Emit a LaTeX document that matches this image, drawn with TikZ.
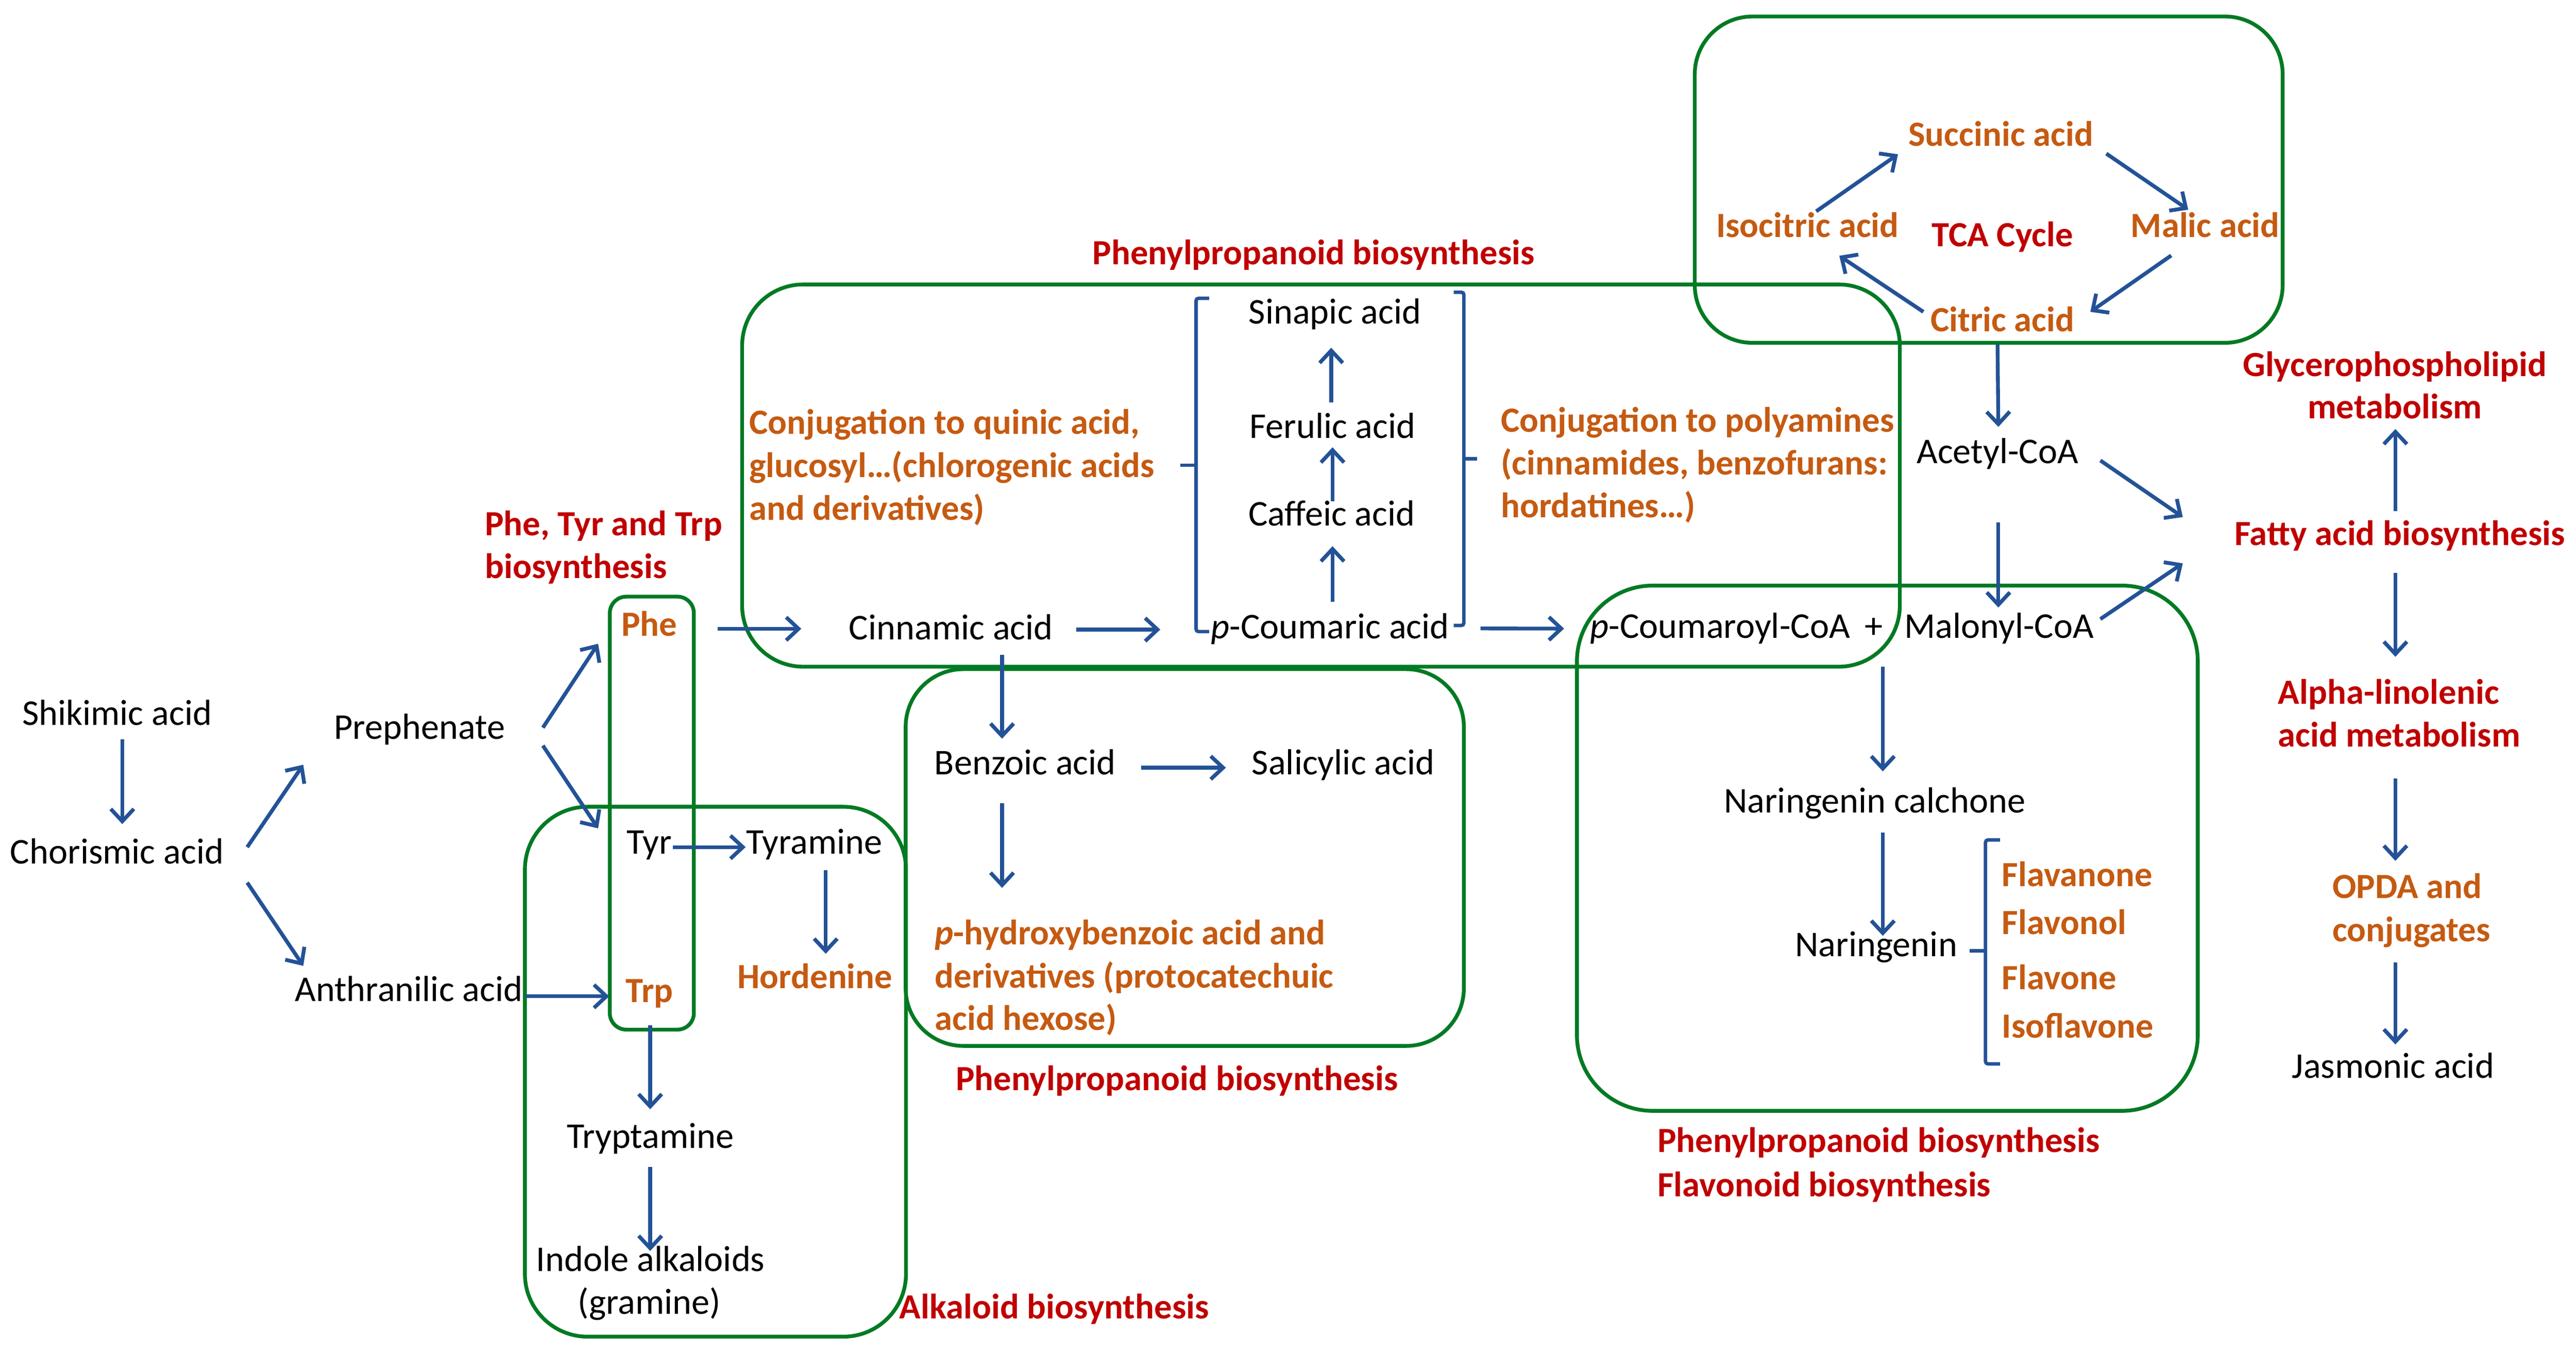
\documentclass[tikz,border=0pt]{standalone}
\usepackage{fontspec}
\setmainfont{Carlito}
\usetikzlibrary{arrows.meta,calc}
\definecolor{arrc}{RGB}{35,82,150}
\definecolor{grn}{RGB}{0,122,35}
\definecolor{orgc}{RGB}{197,90,17}
\definecolor{redc}{RGB}{192,0,0}
\begin{document}
\begin{tikzpicture}[x=1pt,y=-1pt,
  lbl/.style={inner sep=0pt,font=\fontsize{22}{26}\selectfont,text=black},
  org/.style={inner sep=0pt,font=\fontsize{21.5}{26}\selectfont\bfseries,text=orgc},
  rdl/.style={inner sep=0pt,font=\fontsize{21.5}{26}\selectfont\bfseries,text=redc},
  arr/.style={draw=arrc,line width=2.3pt,-{Straight Barb[length=7.5pt,width=14pt]}},
  grp/.style={draw=grn,line width=2.3pt,rounded corners=#1},
  brk/.style={draw=arrc,line width=2.1pt,rounded corners=1.5pt}]
\useasboundingbox (0,0) rectangle (1563,822);
% group frames
\draw[grp=35pt] (1028.3,10) rectangle (1385,208);
\draw[grp=37pt] (450.3,172.6) rectangle (1152.7,404.5);
\draw[grp=10pt] (370,362) rectangle (421,624.7);
\draw[grp=38pt] (318.5,489.5) rectangle (549.7,811);
\draw[grp=35pt] (549.5,406) rectangle (888.2,634.6);
\draw[grp=46pt] (956.8,355.3) rectangle (1333.5,674);
% brackets
\draw[brk] (733.6,181) -- (725.7,181) -- (725.7,383.2) -- (733.6,383.2);
\draw[brk] (716.3,282.3) -- (725.7,282.3);
\draw[brk] (882,177.3) -- (888.2,177.3) -- (888.2,379.5) -- (882,379.5);
\draw[brk] (888.2,278.4) -- (896.2,278.4);
\draw[brk] (1213.5,509.6) -- (1204.7,509.6) -- (1204.7,645.5) -- (1213.5,645.5);
\draw[brk] (1195,577) -- (1204.7,577);
% black labels
\node[lbl,anchor=base] (shik) at (71,440) {Shikimic acid};
\node[lbl,anchor=base] (chor) at (71,524) {Chorismic acid};
\node[lbl,anchor=base] (preph) at (254.5,448.5) {Prephenate};
\node[lbl,anchor=base] (anth) at (248,607.5) {Anthranilic acid};
\node[lbl,anchor=base] (tyr) at (394,518) {Tyr};
\node[lbl,anchor=base] (tyram) at (494,518) {Tyramine};
\node[lbl,anchor=base] (trypt) at (394.7,696.5) {Tryptamine};
\node[lbl,anchor=base] (indA) at (394.7,771.3) {Indole alkaloids};
\node[lbl,anchor=base] (indB) at (394,797.4) {(gramine)};
\node[lbl,anchor=base] (cinn) at (577,388) {Cinnamic acid};
\node[lbl,anchor=base] (sinap) at (810,196.5) {Sinapic acid};
\node[lbl,anchor=base] (feru) at (808.5,266) {Ferulic acid};
\node[lbl,anchor=base] (caff) at (808,319) {Caffeic acid};
\node[lbl,anchor=base] (pcoum) at (807,387.6) {\textit{p}-Coumaric acid};
\node[lbl,anchor=base] (benz) at (622,470) {Benzoic acid};
\node[lbl,anchor=base] (salic) at (815,470) {Salicylic acid};
\node[lbl,anchor=base] (pcoa) at (1043.7,387.3) {\textit{p}-Coumaroyl-CoA};
\node[lbl,anchor=base] (plus) at (1137,387.3) {+};
\node[lbl,anchor=base] (malon) at (1213,387.3) {Malonyl-CoA};
\node[lbl,anchor=base] (acetyl) at (1212,281.2) {Acetyl-CoA};
\node[lbl,anchor=base] (calch) at (1137.5,493) {Naringenin calchone};
\node[lbl,anchor=base] (naring) at (1138.4,580.3) {Naringenin};
\node[lbl,anchor=base] (jasm) at (1452,654.2) {Jasmonic acid};
% orange labels
\node[org,anchor=base] (phe) at (394,386) {Phe};
\node[org,anchor=base] (trp) at (394,608) {Trp};
\node[org,anchor=base] (hord) at (494.5,599.7) {Hordenine};
\node[org,anchor=base] (succ) at (1214,88.7) {Succinic acid};
\node[org,anchor=base] (isoc) at (1096.7,144) {Isocitric acid};
\node[org,anchor=base] (malic) at (1338,144) {Malic acid};
\node[org,anchor=base] (citric) at (1215,201.2) {Citric acid};
\node[org,anchor=base west] (cqA) at (454.4,263.4) {Conjugation to quinic acid,};
\node[org,anchor=base west] (cqB) at (454.4,289.5) {glucosyl…(chlorogenic acids};
\node[org,anchor=base west] (cqC) at (454.4,315.6) {and derivatives)};
\node[org,anchor=base west] (cpA) at (910.5,262) {Conjugation to polyamines};
\node[org,anchor=base west] (cpB) at (910.5,288) {(cinnamides, benzofurans:};
\node[org,anchor=base west] (cpC) at (910.5,314) {hordatines…)};
\node[org,anchor=base west] (phA) at (567,573) {\textit{p}-hydroxybenzoic acid and};
\node[org,anchor=base west] (phB) at (567,599.3) {derivatives (protocatechuic};
\node[org,anchor=base west] (phC) at (567,624.9) {acid hexose)};
\node[org,anchor=base west] (flA) at (1214.5,537.8) {Flavanone};
\node[org,anchor=base west] (flB) at (1214.5,566.9) {Flavonol};
\node[org,anchor=base west] (flC) at (1214.5,600.4) {Flavone};
\node[org,anchor=base west] (flD) at (1214.5,629.7) {Isoflavone};
\node[org,anchor=base west] (opA) at (1415,545) {OPDA and};
\node[org,anchor=base west] (opB) at (1415,571.3) {conjugates};
% red labels
\node[rdl,anchor=base] (tca) at (1215,149.7) {TCA Cycle};
\node[rdl,anchor=base west] (ptA) at (294,325) {Phe, Tyr and Trp};
\node[rdl,anchor=base west] (ptB) at (294,351) {biosynthesis};
\node[rdl,anchor=base] (pp1) at (797,160.5) {Phenylpropanoid biosynthesis};
\node[rdl,anchor=base] (pp2) at (714,661.7) {Phenylpropanoid biosynthesis};
\node[rdl,anchor=base west] (alk) at (545.5,800) {Alkaloid biosynthesis};
\node[rdl,anchor=base west] (pp3) at (1005.5,699) {Phenylpropanoid biosynthesis};
\node[rdl,anchor=base west] (flav) at (1005.5,726) {Flavonoid biosynthesis};
\node[rdl,anchor=base] (glyA) at (1453,228.2) {Glycerophospholipid};
\node[rdl,anchor=base] (glyB) at (1453,254) {metabolism};
\node[rdl,anchor=base] (fatty) at (1456,331) {Fatty acid biosynthesis};
\node[rdl,anchor=base west] (alA) at (1382,427.2) {Alpha-linolenic};
\node[rdl,anchor=base west] (alB) at (1382,453.1) {acid metabolism};
% arrows
\draw[arr] ($(shik.base)+(3.2,8.5)$) -- ($(chor.base)+(3.2,-24)$);
\draw[arr] ($(chor.base)+(79,-10)$) -- ($(preph.base)+(-70.5,15.5)$);
\draw[arr] ($(chor.base)+(79,11.5)$) -- ($(anth.base)+(-64,-21.5)$);
\draw[arr] ($(preph.base)+(74.9,-7)$) -- ($(phe.base)+(-31.1,4.6)$);
\draw[arr] ($(preph.base)+(74.9,3.9)$) -- ($(tyr.base)+(-31.1,-15.4)$);
\draw[arr] ($(anth.base)+(71,-3)$) -- ($(trp.base)+(-24.4,-3.5)$);
\draw[arr] ($(phe.base)+(41.6,-4.5)$) -- ($(cinn.base)+(-90.8,-6.5)$);
\draw[arr] ($(tyr.base)+(14.3,-4)$) -- ($(tyram.base)+(-41.6,-4)$);
\draw[arr] ($(tyram.base)+(7,10)$) -- ($(hord.base)+(6.5,-21)$);
\draw[arr] ($(trp.base)+(0.5,14)$) -- ($(trypt.base)+(-0.2,-23.5)$);
\draw[arr] ($(trypt.base)+(-0.2,11.5)$) -- ($(indA.base)+(-0.2,-12.3)$);
\draw[arr] ($(cinn.base)+(76,-6)$) -- ($(pcoum.base)+(-103,-5.6)$);
\draw[arr] ($(cinn.base)+(31,9.3)$) -- ($(benz.base)+(-14,-21.8)$);
\draw[arr] ($(pcoum.base)+(1.5,-22.6)$) -- ($(caff.base)+(0.5,12.4)$);
\draw[arr] ($(caff.base)+(0.5,-15)$) -- ($(feru.base)+(0,5.4)$);
\draw[arr] ($(feru.base)+(-0.8,-22)$) -- ($(sinap.base)+(-2.3,14.5)$);
\draw[arr] ($(pcoum.base)+(91.3,-6.3)$) -- ($(pcoa.base)+(-94.7,-5.9)$);
\draw[arr] ($(benz.base)+(70.4,-4.2)$) -- ($(salic.base)+(-71.2,-4.2)$);
\draw[arr] ($(benz.base)+(-14,17.3)$) -- ($(phA.base west)+(41,-34.3)$);
\draw[arr] ($(citric.base)+(-3,7.8)$) -- ($(acetyl.base)+(0.5,-22.2)$);
\draw[arr] ($(acetyl.base)+(0.5,35.8)$) -- ($(malon.base)+(-0.5,-18.7)$);
\draw[arr] ($(acetyl.base)+(62.4,-1.8)$) -- ($(fatty.base)+(-131.6,-17.3)$);
\draw[arr] ($(malon.base)+(61.4,-11.7)$) -- ($(fatty.base)+(-131.6,10.8)$);
\draw[arr] ($(plus.base)+(5.4,17.2)$) -- ($(calch.base)+(4.9,-25)$);
\draw[arr] ($(calch.base)+(4.9,12)$) -- ($(naring.base)+(4,-12.5)$);
\draw[arr] ($(fatty.base)+(-2.6,-20.8)$) -- ($(glyB.base)+(0.4,6.3)$);
\draw[arr] ($(fatty.base)+(-2.6,16.7)$) -- ($(alA.base west)+(71.4,-28.7)$);
\draw[arr] ($(alB.base west)+(71.4,19.3)$) -- ($(opA.base west)+(38.4,-22.7)$);
\draw[arr] ($(opB.base west)+(38.4,12.5)$) -- ($(jasm.base)+(1.4,-20.5)$);
\draw[arr] ($(isoc.base)+(5.3,-15.8)$) -- ($(succ.base)+(-62.4,4.9)$);
\draw[arr] ($(succ.base)+(64,4.5)$) -- ($(malic.base)+(-10.3,-16.8)$);
\draw[arr] ($(malic.base)+(-20.6,11)$) -- ($(citric.base)+(53.3,-12)$);
\draw[arr] ($(citric.base)+(-48,-12)$) -- ($(isoc.base)+(19.3,11.2)$);
\end{tikzpicture}
\end{document}
